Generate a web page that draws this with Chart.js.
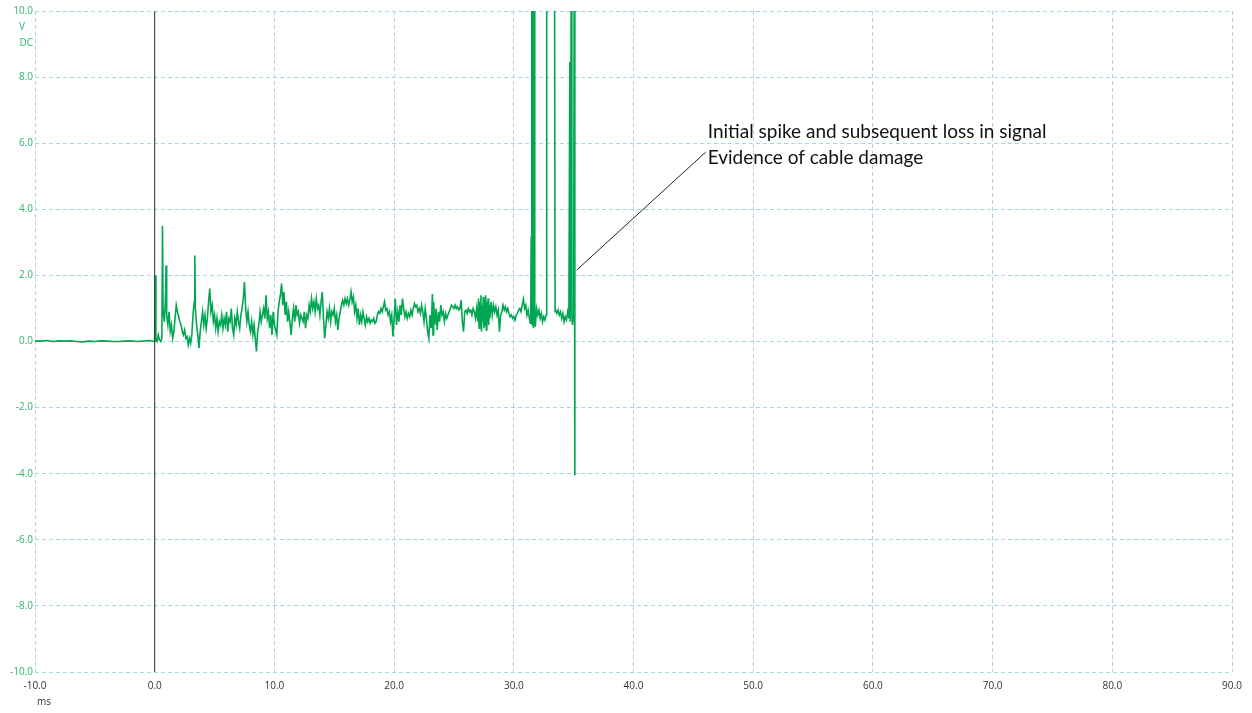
<!DOCTYPE html>
<html>
<head>
<meta charset="utf-8">
<script src="https://cdn.jsdelivr.net/npm/chart.js@4/dist/chart.umd.min.js"></script>
<style>
  html, body { margin: 0; padding: 0; background: #ffffff; }
  #wrap { width: 1252px; height: 713px; }
</style>
</head>
<body>
<div id="wrap"><canvas id="c" width="1252" height="713"></canvas></div>
<script>
const timeMs = [
  -10,-9.5,-9,-8.5,-8,-7.5,-7,-6.5,-6,-5.5,-5,-4.5,-4,-3.5,-3,-2.5,-2,-1.5,-1,-0.5,
  0.0,0.05,0.1,0.2,0.3,0.4,0.5,0.6,0.65,0.7,0.8,0.9,0.95,1.0,1.1,1.2,1.3,1.4,1.5,1.6,1.7,1.8,1.9,
  2.0,2.1,2.2,2.3,2.4,2.5,2.6,2.7,2.8,2.9,3.0,3.1,3.2,3.3,3.35,3.4,3.5,3.6,3.7,3.8,3.9,
  4.0,4.1,4.2,4.3,4.4,4.5,4.6,4.7,4.8,4.9,5.0,5.1,5.2,5.3,5.4,5.5,5.6,5.7,5.8,5.9,
  6.0,6.1,6.2,6.3,6.4,6.5,6.6,6.7,6.8,6.9,7.0,7.1,7.2,7.3,7.4,7.5,7.6,7.7,7.8,7.9,
  8.0,8.1,8.2,8.3,8.4,8.5,8.6,8.7,8.8,8.9,9.0,9.1,9.2,9.3,9.4,9.5,9.6,9.7,9.8,9.9,
  10.0,10.2,10.3,10.4,10.5,10.6,10.7,10.8,10.9,11.0,11.1,11.2,11.4,11.5,11.6,11.7,11.8,11.9,
  12.0,12.1,12.2,12.4,12.5,12.6,12.7,12.8,12.9,13.0,13.1,13.2,13.3,13.4,13.5,13.6,13.7,13.8,13.9,
  14.0,14.1,14.2,14.3,14.4,14.5,14.6,14.7,14.8,14.9,15.0,15.1,15.2,15.3,15.4,15.5,15.6,15.7,15.8,15.9,
  16.0,16.1,16.2,16.3,16.4,16.5,16.6,16.7,16.8,16.9,17.0,17.1,17.2,17.3,17.4,17.5,17.6,17.7,17.8,17.9,
  18.0,18.1,18.2,18.3,18.4,18.5,18.6,18.7,18.8,18.9,19.0,19.1,19.2,19.3,19.4,19.5,19.6,19.7,19.8,19.9,
  20.0,20.1,20.2,20.3,20.4,20.5,20.6,20.7,20.8,20.9,21.0,21.1,21.2,21.3,21.4,21.5,21.6,21.7,21.8,21.9,
  22.0,22.1,22.2,22.3,22.4,22.5,22.6,22.7,22.8,22.9,23.0,23.1,23.2,23.25,23.3,23.4,23.5,23.6,23.7,23.8,23.9,
  24.0,24.1,24.2,24.3,24.4,24.5,24.6,24.7,24.8,24.9,25.0,25.1,25.2,25.3,25.4,25.5,25.6,25.7,25.8,25.9,
  26.0,26.1,26.2,26.3,26.4,26.5,26.6,26.7,26.8,26.9,
  27.0,27.05,27.1,27.15,27.2,27.25,27.3,27.35,27.4,27.45,27.5,27.55,27.6,27.65,27.7,27.75,27.8,27.85,27.9,27.95,
  28.0,28.1,28.2,28.3,28.4,28.5,28.6,28.7,28.8,28.9,29.0,29.1,29.2,29.3,29.4,29.5,29.6,29.7,29.8,29.9,
  30.0,30.1,30.2,30.3,30.4,30.5,30.6,30.7,30.8,30.9,31.0,31.1,31.2,31.3,31.38,31.42,31.45,31.5,31.55,31.6,31.65,31.7,31.75,31.8,31.9,
  32.0,32.1,32.2,32.3,32.4,32.5,32.6,32.7,32.75,33.4,33.45,33.5,33.6,33.7,33.8,33.9,
  34.0,34.1,34.2,34.3,34.4,34.5,34.6,34.68,34.72,34.8,34.85,34.9,35.0,35.05,35.1
];
const voltsDC = [
  0.02,0.01,0.03,0.0,0.02,0.01,0.02,0.0,-0.01,0.01,0.0,0.02,0.01,0.0,0.0,0.01,0.02,0.0,0.01,0.03,
  0.0,2.0,0.05,0.0,0.2,0.05,0.0,0.1,3.5,1.0,0.6,1.3,2.3,0.8,0.5,0.9,0.3,0.5,0.1,0.3,0.7,1.1,0.9,
  0.75,0.6,0.5,0.3,0.2,0.35,0.1,0.15,-0.1,0.1,-0.05,0.2,0.8,1.2,2.6,1.0,0.5,0.2,-0.2,0.3,0.6,
  0.9,0.5,0.8,0.4,0.7,1.2,1.6,0.9,1.1,0.6,0.8,0.4,0.7,0.3,0.6,0.5,0.8,0.4,0.7,0.5,
  0.9,0.3,0.7,0.6,1.0,0.4,0.2,0.7,0.5,0.9,0.6,0.4,0.8,1.0,1.3,1.8,1.0,0.6,0.9,0.5,
  0.3,0.6,0.2,0.5,0.1,-0.3,0.3,0.5,0.9,0.6,0.8,1.0,0.7,1.4,0.7,0.9,0.4,0.8,0.2,0.9,
  0.5,0.2,0.9,1.2,1.4,1.75,1.1,1.5,0.8,1.2,0.6,0.9,0.2,0.7,1.0,0.6,1.1,0.8,
  0.9,0.55,0.8,0.6,0.9,0.4,0.8,0.7,1.1,0.9,1.3,1.0,1.2,0.9,1.3,1.0,1.1,0.8,1.2,
  1.5,0.7,0.1,0.5,0.9,0.7,1.0,0.6,0.9,0.8,1.0,0.6,0.8,0.35,0.7,0.9,1.1,1.25,1.1,1.3,
  1.15,1.3,1.1,1.25,1.5,1.2,1.35,0.9,1.1,0.7,1.0,0.5,0.8,0.6,0.9,0.7,0.5,0.75,0.6,0.7,
  0.55,0.65,0.6,0.7,0.55,0.6,0.8,0.9,0.85,1.0,0.9,1.05,1.2,0.95,1.0,0.8,0.9,0.6,0.8,0.15,
  0.7,1.3,0.5,0.9,0.6,1.1,0.8,1.3,1.0,0.75,0.9,0.7,0.85,0.75,0.95,0.8,1.0,1.15,1.05,1.1,
  0.9,1.0,0.85,1.1,0.9,0.6,1.0,0.7,0.3,0.1,0.8,0.4,1.44,0.2,1.2,0.5,1.0,0.35,0.9,0.6,1.1,
  0.8,0.9,0.6,0.85,0.7,0.8,0.9,1.0,1.1,1.05,1.0,1.1,1.0,1.05,0.95,1.0,1.25,0.6,0.3,0.9,
  0.95,0.85,1.0,0.9,0.95,0.8,1.0,0.9,0.7,1.0,
  0.6,1.3,0.4,1.2,0.5,1.4,0.3,1.1,0.6,1.35,0.4,1.25,0.5,1.4,0.35,1.2,0.6,1.3,0.5,1.1,
  0.7,1.2,0.8,1.1,0.9,1.05,0.8,0.95,0.3,0.8,0.9,1.1,0.95,1.05,0.9,1.0,0.85,0.75,0.8,0.7,
  0.75,0.65,0.8,0.85,0.95,1.0,0.9,1.1,1.28,1.0,1.1,0.8,0.95,0.7,0.55,0.9,3.15,12,0.5,12,0.4,12,0.7,0.45,1.0,
  0.8,0.95,0.7,0.85,0.6,0.75,0.65,0.8,12,12,0.9,0.95,0.85,0.95,0.8,0.9,
  0.7,0.85,0.6,0.75,0.65,0.9,0.7,8.45,0.6,12,0.9,0.5,0.8,12,-4.05
];
const cursorMs = [0, 0];
const cursorV = [-10, 10];
const leaderMs = [35.25, 46.03];
const leaderV = [2.16, 5.73];
const noteLines = ["Initial spike and subsequent loss in signal", "Evidence of cable damage"];
const noteAnchorMs = 46.2;
const noteLineV = [6.35, 5.57];
const xRange = [-10, 90];
const yRange = [-10, 10];

const pts = (xs, ys) => xs.map((x, i) => ({ x: x, y: ys[i] }));

const FONT = "'Open Sans', 'Noto Sans', sans-serif";

const extras = {
  id: 'extras',
  afterDraw(chart) {
    const ctx = chart.ctx;
    const xs = chart.scales.x, ys = chart.scales.y;
    ctx.save();
    // unit labels on the y axis
    ctx.fillStyle = '#2fb36b';
    ctx.font = "10px " + FONT;
    ctx.textBaseline = 'middle';
    ctx.textAlign = 'center';
    ctx.fillText('V', 22, 27);
    ctx.textAlign = 'right';
    ctx.fillText('DC', 33, 43);
    // unit label on the x axis
    ctx.fillStyle = '#333333';
    ctx.textAlign = 'center';
    ctx.fillText('ms', 44, 702);
    // annotation text
    ctx.fillStyle = '#111111';
    ctx.font = "19px Lato, " + FONT;
    ctx.textAlign = 'left';
    ctx.textBaseline = 'middle';
    noteLines.forEach((t, i) => {
      ctx.fillText(t, xs.getPixelForValue(noteAnchorMs), ys.getPixelForValue(noteLineV[i]));
    });
    ctx.restore();
  }
};

new Chart(document.getElementById('c'), {
  type: 'line',
  data: {
    datasets: [
      {
        label: 'cursor',
        data: pts(cursorMs, cursorV),
        borderColor: '#2a3530',
        borderWidth: 1,
        pointRadius: 0,
        order: 0
      },
      {
        label: 'leader',
        data: pts(leaderMs, leaderV),
        borderColor: '#222222',
        borderWidth: 1,
        pointRadius: 0,
        order: 0
      },
      {
        label: 'Channel A',
        data: pts(timeMs, voltsDC),
        borderColor: '#00a651',
        borderWidth: 1.6,
        pointRadius: 0,
        tension: 0,
        order: 1
      }
    ]
  },
  options: {
    responsive: false,
    animation: false,
    events: [],
    layout: { padding: { top: 11, right: 20, left: 0, bottom: 0 } },
    plugins: { legend: { display: false }, tooltip: { enabled: false } },
    scales: {
      x: {
        type: 'linear',
        min: xRange[0], max: xRange[1],
        afterFit(s) { s.height = 41; },
        border: { display: false, dash: [4, 3] },
        grid: { color: '#a9d6e4', lineWidth: 1, drawTicks: false },
        ticks: {
          stepSize: 10, padding: 8, color: '#333333',
          font: { family: FONT, size: 10 },
          maxRotation: 0,
          callback: v => Number(v).toFixed(1)
        }
      },
      y: {
        type: 'linear',
        min: yRange[0], max: yRange[1],
        afterFit(s) { s.width = 35; },
        border: { display: false, dash: [4, 3] },
        grid: { color: '#a9d6e4', lineWidth: 1, drawTicks: false },
        ticks: {
          stepSize: 2, padding: 2, color: '#2fb36b',
          font: { family: FONT, size: 10 },
          callback: v => Number(v).toFixed(1)
        }
      }
    }
  },
  plugins: [extras]
});
</script>
</body>
</html>
